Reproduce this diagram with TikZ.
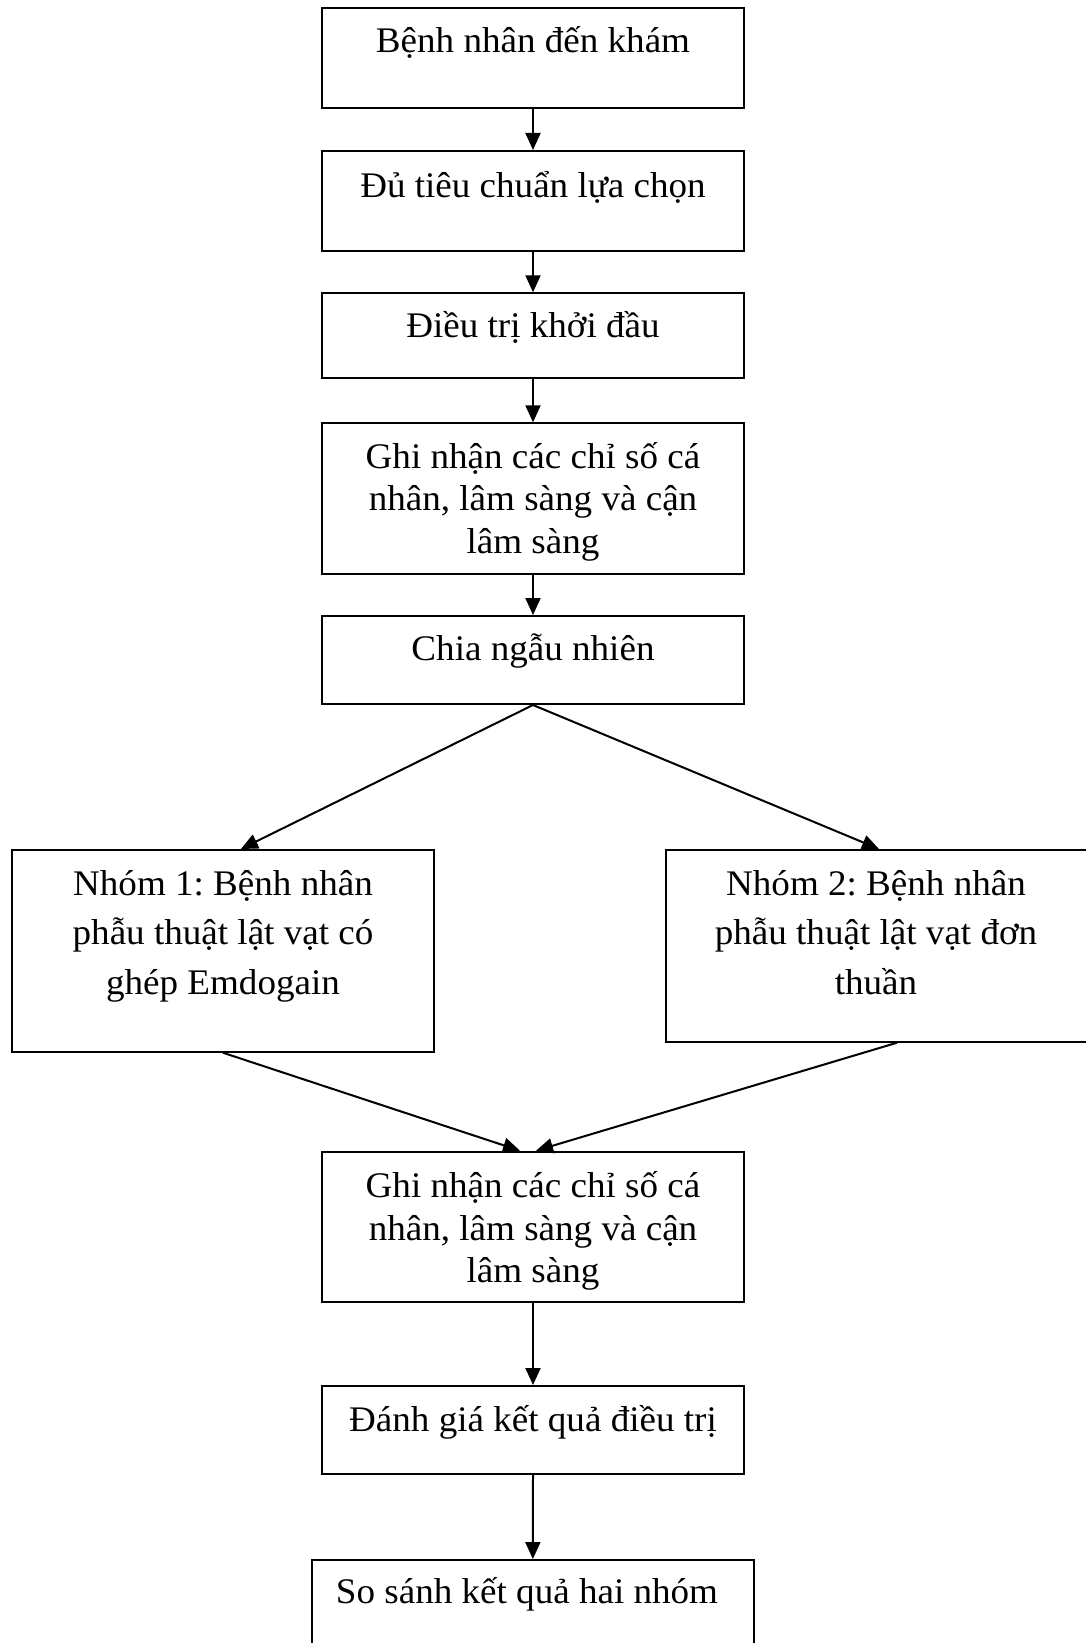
\documentclass[tikz,border=0pt]{standalone}
\usepackage{fontspec}
\setmainfont{Liberation Serif}[FakeStretch=1.03]
\usetikzlibrary{arrows.meta,calc}
\frenchspacing
\begin{document}
\begin{tikzpicture}[x=1pt,y=-1pt,
  box/.style={draw=black,line width=2pt,fill=white,rectangle,inner sep=0pt,minimum width=422.3pt},
  txt/.style={inner sep=0pt,align=center,anchor=base,font=\fontsize{36}{42.5}\selectfont},
  txtw/.style={inner sep=0pt,align=center,anchor=base,font=\fontsize{36}{49.5}\selectfont},
  arr/.style={line width=2pt,-{Triangle[length=17pt,width=15pt]}}]
\useasboundingbox (0,0) rectangle (1086,1643);
% boxes
\node[box,minimum height=100pt] (b1) at (533,58.3) {};
\node[box,minimum height=99.7pt] (b2) at (533,200.85) {};
\node[box,minimum height=84.4pt] (b3) at (533,335.5) {};
\node[box,minimum height=151pt] (b4) at (533,498.8) {};
\node[box,minimum height=88pt] (b5) at (533,660) {};
\node[box,minimum width=422.2pt,minimum height=201.7pt] (n1) at (222.9,950.85) {};
\node[box,minimum width=426pt,minimum height=191.7pt] (n2) at (879,945.85) {};
\node[box,minimum height=150.6pt] (b6) at (533,1227) {};
\node[box,minimum height=88pt] (b7) at (533,1430) {};
\node[box,minimum width=442.3pt,minimum height=100pt] (b8) at (532.85,1610) {};
% texts (base anchor = baseline of the last line)
\node[txt] (t1) at (533,53) {Bệnh nhân đến khám};
\node[txt] (t2) at (533,197) {Đủ tiêu chuẩn lựa chọn};
\node[txt] (t3) at (533,337.3) {Điều trị khởi đầu};
\node[txt] (t4) at (533,553.3) {Ghi nhận các chỉ số cá\\nhân, lâm sàng và cận\\lâm sàng};
\node[txt] (t5) at (533,660) {Chia ngẫu nhiên};
\node[txtw] (tn1) at (223,994) {Nhóm 1: Bệnh nhân\\phẫu thuật lật vạt có\\ghép Emdogain};
\node[txtw] (tn2) at (876,994) {Nhóm 2: Bệnh nhân\\phẫu thuật lật vạt đơn\\thuần};
\node[txt] (t6) at (533,1282.7) {Ghi nhận các chỉ số cá\\nhân, lâm sàng và cận\\lâm sàng};
\node[txt] (t7) at (533,1431.7) {Đánh giá kết quả điều trị};
\node[txt] (t8) at (527,1603) {So sánh kết quả hai nhóm};
% connectors
\draw[arr] (b1.south) -- (b2.north);
\draw[arr] (b2.south) -- (b3.north);
\draw[arr] (b3.south) -- (b4.north);
\draw[arr] (b4.south) -- (b5.north);
\draw[arr] (b5.south) -- ($(n1.north)+(18,0)$);
\draw[arr] (b5.south) -- ($(n2.north)+(0,0)$);
\draw[arr] (n1.south) -- ($(b6.north)+(-13,0)$);
\draw[arr] ($(n2.south)+(18,0)$) -- ($(b6.north)+(3,0)$);
\draw[arr] (b6.south) -- (b7.north);
\draw[arr] (b7.south) -- (b8.north);
\end{tikzpicture}
\end{document}
